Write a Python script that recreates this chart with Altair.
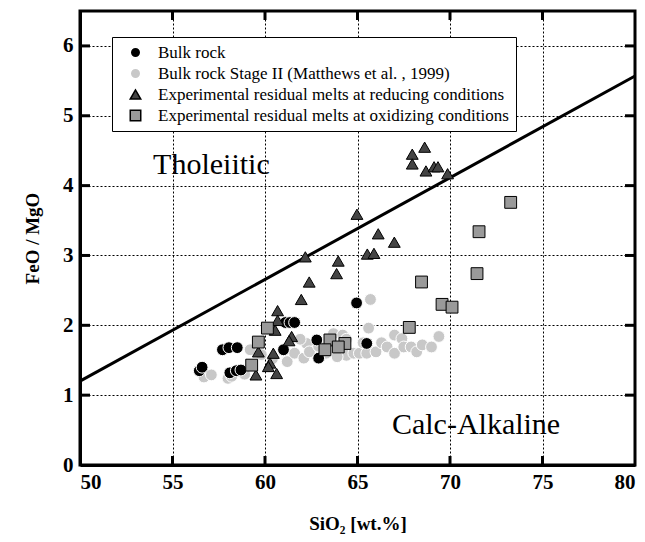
import altair as alt
import pandas as pd

# ---- data ----
bulk_x = [56.45, 56.6, 57.7, 58.05, 58.5, 58.1, 58.45, 58.7, 61.0, 61.1, 61.35, 61.6, 62.8, 62.9, 64.95, 65.5]
bulk_y = [1.35, 1.40, 1.65, 1.68, 1.68, 1.32, 1.35, 1.36, 1.65, 2.04, 2.04, 2.04, 1.79, 1.53, 2.32, 1.74]

stage_x = [56.7, 57.1, 58.0, 58.2, 58.9, 59.2, 59.8, 60.4, 61.2, 61.6, 62.1, 62.25, 62.4, 62.9, 63.3,
           63.7, 64.0, 64.2, 64.4, 64.4, 64.8, 65.1, 65.3, 65.5, 65.6, 65.7, 66.0, 66.3, 66.6, 67.0,
           67.0, 67.4, 67.5, 67.9, 68.2, 68.5, 69.0, 69.4, 63.9, 61.9]
stage_y = [1.26, 1.29, 1.24, 1.27, 1.30, 1.65, 1.58, 1.52, 1.48, 1.60, 1.53, 1.74, 1.62, 1.70, 1.60,
           1.88, 1.62, 1.86, 1.57, 1.80, 1.60, 1.60, 1.75, 1.60, 1.96, 2.37, 1.62, 1.75, 1.69, 1.60,
           1.86, 1.81, 1.69, 1.69, 1.62, 1.72, 1.69, 1.84, 1.55, 1.80]

red_x = [67.96, 68.63, 67.96, 68.7, 69.14, 69.35, 69.87, 64.97, 66.12, 66.99, 65.53, 65.89, 62.18, 63.96,
         63.87, 62.39, 61.96, 60.68, 60.68, 60.55, 61.44, 61.3, 59.64, 60.45, 60.27, 60.18, 60.63, 59.51]
red_y = [4.45, 4.55, 4.31, 4.21, 4.27, 4.27, 4.17, 3.59, 3.31, 3.19, 3.02, 3.03, 2.98, 2.92,
         2.74, 2.62, 2.37, 2.21, 2.07, 1.93, 1.84, 1.78, 1.62, 1.60, 1.46, 1.41, 1.31, 1.29]

ox_x = [73.28, 71.57, 71.46, 68.46, 69.57, 70.11, 67.8, 63.51, 64.32, 63.96, 63.24, 60.13, 59.64, 59.28]
ox_y = [3.76, 3.34, 2.74, 2.62, 2.30, 2.26, 1.97, 1.79, 1.74, 1.69, 1.65, 1.96, 1.76, 1.43]

series_names = [
    "Bulk rock",
    "Bulk rock Stage II (Matthews et al. , 1999)",
    "Experimental residual melts at reducing conditions",
    "Experimental residual melts at oxidizing conditions",
]
fills = ["#000000", "#c8c8c8", "#444444", "#9a9a9a"]
edges = ["#ffffff", "#ffffff", "#000000", "#000000"]
shapes = ["circle", "circle", "triangle-up", "square"]

line_x = [50, 80]
line_y = [1.2, 5.57]

x_ticks = [55, 60, 65, 70, 75]
y_ticks = [1, 2, 3, 4, 5, 6]

labels_text = ["Tholeiitic", "Calc-Alkaline"]
labels_x = [53.95, 66.86]
labels_y = [4.29, 0.575]

# ---- build tables ----
def frame(xs, ys, name):
    return pd.DataFrame({"x": xs, "y": ys, "series": name})

# draw order: stage II at back, then bulk rock, triangles, squares
pts = pd.concat([
    frame(stage_x, stage_y, series_names[1]),
    frame(bulk_x, bulk_y, series_names[0]),
    frame(red_x, red_y, series_names[2]),
    frame(ox_x, ox_y, series_names[3]),
], ignore_index=True)

W, H = 555, 454
SERIF = "Liberation Serif"

xs = alt.Scale(domain=[50, 80], nice=False, zero=False)
ys = alt.Scale(domain=[0, 6.5], nice=False, zero=False)

lab = dict(labelFont=SERIF, labelFontWeight="bold", labelFontSize=21, labelColor="black",
           titleFont=SERIF, titleFontWeight="bold", titleFontSize=19, titleColor="black",
           format="d", ticks=False)
xax = alt.Axis(values=[50, 55, 60, 65, 70, 75, 80], title="SiO₂ [wt.%]",
               labelPadding=6, titlePadding=22, **lab)
yax = alt.Axis(values=[0, 1, 2, 3, 4, 5, 6], title="FeO / MgO",
               labelPadding=7, titlePadding=20, **lab)

points = alt.Chart(pts).mark_point(filled=True, size=140, opacity=1, strokeWidth=1).encode(
    x=alt.X("x:Q", scale=xs, axis=xax),
    y=alt.Y("y:Q", scale=ys, axis=yax),
    color=alt.Color("series:N", scale=alt.Scale(domain=series_names, range=fills),
                    legend=alt.Legend(title=None)),
    shape=alt.Shape("series:N", scale=alt.Scale(domain=series_names, range=shapes),
                    legend=alt.Legend(title=None)),
    stroke=alt.Stroke("series:N", scale=alt.Scale(domain=series_names, range=edges),
                      legend=alt.Legend(title=None)),
)

line = alt.Chart(pd.DataFrame({"x": line_x, "y": line_y})).mark_line(
    color="black", strokeWidth=3).encode(x=alt.X("x:Q", scale=xs), y=alt.Y("y:Q", scale=ys))

txt = alt.Chart(pd.DataFrame({"t": labels_text, "x": labels_x, "y": labels_y})).mark_text(
    font=SERIF, fontSize=30, align="left", baseline="middle", color="black").encode(
    x=alt.X("x:Q", scale=xs), y=alt.Y("y:Q", scale=ys), text="t:N")

xt = pd.DataFrame({"v": x_ticks})
yt = pd.DataFrame({"v": y_ticks})
tick_style = dict(color="black", strokeWidth=3)
xb = alt.Chart(xt).mark_rule(**tick_style).encode(x=alt.X("v:Q", scale=xs), y=alt.value(H - 9), y2=alt.value(H))
xtop = alt.Chart(xt).mark_rule(**tick_style).encode(x=alt.X("v:Q", scale=xs), y=alt.value(0), y2=alt.value(9))
yl = alt.Chart(yt).mark_rule(**tick_style).encode(y=alt.Y("v:Q", scale=ys), x=alt.value(0), x2=alt.value(10))
yr = alt.Chart(yt).mark_rule(**tick_style).encode(y=alt.Y("v:Q", scale=ys), x=alt.value(W - 10), x2=alt.value(W))

chart = alt.layer(line, points, txt, xb, xtop, yl, yr).properties(
    width=W, height=H,
    autosize=alt.AutoSizeParams(type="none"),
    padding={"left": 80, "top": 11, "right": 10, "bottom": 77},
    background="white",
).configure_view(
    stroke="black", strokeWidth=3
).configure_axis(
    domainColor="black", domainWidth=3,
    grid=True, gridColor="black", gridDash=[2, 2], gridWidth=1, gridOpacity=1,
).configure_legend(
    orient="none", legendX=32, legendY=26,
    strokeColor="black", fillColor="white", padding=7,
    labelFont=SERIF, labelFontSize=17, labelColor="black", labelLimit=600,
    symbolSize=110, symbolOffset=8, labelOffset=14, rowPadding=3,
)

chart.save("out.html", embed_options={"renderer": "svg", "actions": False})
